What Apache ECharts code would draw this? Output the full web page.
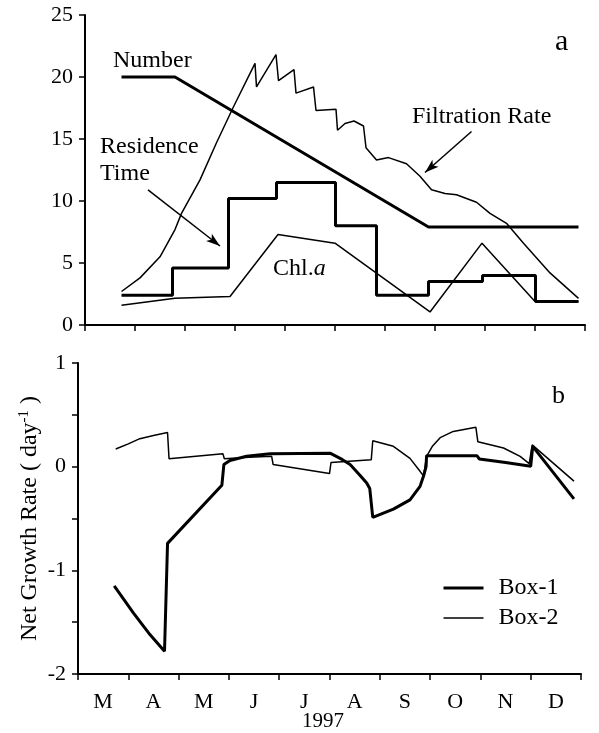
<!DOCTYPE html>
<html>
<head>
<meta charset="utf-8">
<script src="https://cdn.jsdelivr.net/npm/echarts@6/dist/echarts.min.js"></script>
<style>
  html, body { margin: 0; padding: 0; background: #fff; }
  #chart { width: 599px; height: 733px; }
</style>
</head>
<body>
<div id="chart"></div>
<script>
// x values are months since 1 March 1997 (0 = 1 Mar, 10 = 1 Jan)
const months = ['M', 'A', 'M', 'J', 'J', 'A', 'S', 'O', 'N', 'D'];
const yearLabel = '1997';

// Panel a
const numberPts = [[0.73, 20], [1.8, 20], [6.87, 7.9], [9.87, 7.9]];
// step changes (value holds until the next x)
const residencePts = [[0.73, 2.4], [1.75, 4.6], [2.87, 10.2], [3.83, 11.5], [5.01, 8.0],
  [5.83, 2.4], [6.87, 3.5], [7.95, 4.0], [9.01, 1.9], [9.87, 1.9]];
const chlPts = [[0.73, 1.6], [1.8, 2.15], [2.9, 2.3], [3.86, 7.3], [5.0, 6.6], [6.9, 1.05],
  [7.94, 6.6], [9.0, 1.9], [9.87, 1.9]];
const filtrationPts = [[0.73, 2.7], [1.1, 3.8], [1.5, 5.5], [1.8, 7.7], [1.93, 9.0], [2.3, 11.7],
  [2.63, 14.7], [2.97, 17.6], [3.4, 21.1], [3.43, 19.2], [3.82, 21.8], [3.87, 19.7],
  [4.18, 20.6], [4.22, 18.7], [4.57, 19.2], [4.62, 17.3], [5.02, 17.4], [5.05, 15.7],
  [5.2, 16.25], [5.38, 16.45], [5.57, 16.05], [5.62, 14.3], [5.83, 13.3], [6.07, 13.5],
  [6.43, 13.0], [6.7, 12.0], [6.93, 10.9], [7.2, 10.6], [7.43, 10.5], [7.83, 9.9],
  [8.1, 9.0], [8.43, 8.2], [8.77, 6.6], [9.3, 4.2], [9.87, 2.15]];

// Panel b
const box1Pts = [[0.72, -1.15], [1.1, -1.41], [1.43, -1.62], [1.72, -1.78], [1.78, -0.74],
  [2.86, -0.18], [2.9, 0.02], [3.02, 0.06], [3.35, 0.1], [3.82, 0.125], [5.01, 0.13],
  [5.25, 0.07], [5.41, 0.02], [5.6, -0.08], [5.74, -0.157], [5.8, -0.21], [5.86, -0.49],
  [6.27, -0.41], [6.6, -0.32], [6.8, -0.19], [6.87, -0.09], [6.92, 0.0], [6.93, 0.106],
  [7.93, 0.106], [7.98, 0.074], [8.5, 0.04], [9.0, 0.003], [9.04, 0.196], [9.86, -0.31]];
const box2Pts = [[0.75, 0.17], [1.0, 0.22], [1.23, 0.27], [1.5, 0.3], [1.78, 0.33], [1.81, 0.077],
  [2.88, 0.125], [2.91, 0.077], [3.4, 0.09], [3.85, 0.1], [3.88, 0.02], [5.0, -0.067],
  [5.03, 0.04], [5.83, 0.067], [5.86, 0.25], [6.27, 0.196], [6.6, 0.08], [6.8, -0.045],
  [6.87, -0.09], [6.93, 0.1], [7.05, 0.2], [7.2, 0.28], [7.46, 0.34], [7.91, 0.38],
  [7.95, 0.24], [8.46, 0.18], [8.79, 0.1], [8.97, 0.03], [9.03, 0.21], [9.86, -0.14]];

const topTicks = { min: 0, max: 25, interval: 5 };
const bottomTicks = { min: -2, max: 1, interval: 0.5 };

const serif = '"Liberation Serif", "Times New Roman", serif';
const ink = '#000';
const thick = 3;
const thin = 1.5;

const axisLine = { onZero: false, lineStyle: { color: ink, width: 2 } };
const axisTick = { inside: false, length: 6, lineStyle: { color: ink, width: 1.5 } };

const chart = echarts.init(document.getElementById('chart'), null, { renderer: 'canvas' });

function lineSeries(name, pts, xi, yi, width, extra) {
  return Object.assign({
    name: name,
    type: 'line',
    xAxisIndex: xi,
    yAxisIndex: yi,
    data: pts,
    symbol: 'none',
    showSymbol: false,
    smooth: false,
    lineStyle: { color: ink, width: width },
    itemStyle: { color: ink },
    z: 3,
    animation: false
  }, extra || {});
}

const option = {
  backgroundColor: '#fff',
  animation: false,
  textStyle: { fontFamily: serif, color: ink },
  grid: [
    { left: 85, top: 15, width: 500, height: 310 },
    { left: 78, top: 363, width: 503, height: 311 }
  ],
  xAxis: [
    { gridIndex: 0, type: 'value', min: 0, max: 10, interval: 1,
      axisLine: axisLine, axisTick: axisTick, axisLabel: { show: false }, splitLine: { show: false } },
    { gridIndex: 1, type: 'value', min: 0, max: 10, interval: 1,
      axisLine: axisLine, axisTick: axisTick, axisLabel: { show: false }, splitLine: { show: false } },
    { gridIndex: 1, type: 'category', data: months, boundaryGap: true, position: 'bottom',
      axisLine: { show: false, onZero: false }, axisTick: { show: false },
      axisLabel: { fontFamily: serif, fontSize: 22, color: ink, margin: 17 } }
  ],
  yAxis: [
    { gridIndex: 0, type: 'value', min: topTicks.min, max: topTicks.max, interval: topTicks.interval,
      axisLine: Object.assign({ show: true }, axisLine), axisTick: Object.assign({ show: true }, axisTick),
      axisLabel: { fontFamily: serif, fontSize: 22, color: ink, margin: 12 },
      splitLine: { show: false } },
    { gridIndex: 1, type: 'value', min: bottomTicks.min, max: bottomTicks.max, interval: bottomTicks.interval,
      axisLine: Object.assign({ show: true }, axisLine), axisTick: Object.assign({ show: true }, axisTick),
      axisLabel: { fontFamily: serif, fontSize: 22, color: ink, margin: 12,
        formatter: v => (Math.abs(v - Math.round(v)) < 1e-9 ? String(Math.round(v)) : '') },
      splitLine: { show: false },
      name: 'Net Growth Rate ( day{sup|-1} )',
      nameLocation: 'middle', nameRotate: 90, nameGap: 36, nameMoveOverlap: false,
      nameTextStyle: { fontFamily: serif, fontSize: 24, color: ink,
        rich: { sup: { fontFamily: serif, fontSize: 15, color: ink, verticalAlign: 'top', padding: [0, 0, 10, 0] } } } }
  ],
  legend: {
    data: [
      { name: 'Box-1', lineStyle: { width: thick, color: ink } },
      { name: 'Box-2', lineStyle: { width: thin, color: ink } }
    ],
    orient: 'vertical',
    left: 442, top: 576,
    itemWidth: 40, itemHeight: 12, itemGap: 6,
    padding: 0,
    itemStyle: { opacity: 0 },
    textStyle: { fontFamily: serif, fontSize: 24, color: ink, padding: [0, 0, 0, 10] }
  },
  series: [
    lineSeries('Number', numberPts, 0, 0, thick, {
      markLine: {
        silent: true, animation: false,
        symbol: ['none', 'arrow'], symbolSize: [7, 14],
        lineStyle: { color: ink, width: thin, type: 'solid' },
        label: { show: false },
        data: [
          [{ coord: [1.26, 10.9] }, { coord: [2.7, 6.37] }],
          [{ coord: [7.73, 15.6] }, { coord: [6.8, 12.3] }]
        ]
      }
    }),
    lineSeries('Residence Time', residencePts, 0, 0, thick, { step: 'end' }),
    lineSeries('Chl.a', chlPts, 0, 0, thin),
    lineSeries('Filtration Rate', filtrationPts, 0, 0, thin),
    lineSeries('Box-1', box1Pts, 1, 1, thick),
    lineSeries('Box-2', box2Pts, 1, 1, thin)
  ],
  graphic: [
    { type: 'text', left: 113, top: 49, style: { text: 'Number', font: '24px ' + serif, fill: ink } },
    { type: 'text', left: 100, top: 135, style: { text: 'Residence', font: '24px ' + serif, fill: ink } },
    { type: 'text', left: 100, top: 162, style: { text: 'Time', font: '24px ' + serif, fill: ink } },
    { type: 'text', left: 273, top: 257, style: {
        text: '{r|Chl.}{i|a}', fill: ink,
        rich: { r: { font: '24px ' + serif, fill: ink }, i: { font: 'italic 24px ' + serif, fill: ink } } } },
    { type: 'text', left: 412, top: 105, style: { text: 'Filtration Rate', font: '24px ' + serif, fill: ink } },
    { type: 'text', left: 555, top: 27, style: { text: 'a', font: '30px ' + serif, fill: ink } },
    { type: 'text', left: 552, top: 383, style: { text: 'b', font: '26px ' + serif, fill: ink } },
    { type: 'text', left: 302, top: 711, style: { text: yearLabel, font: '21px ' + serif, fill: ink } }
  ]
};

chart.setOption(option);
</script>
</body>
</html>
